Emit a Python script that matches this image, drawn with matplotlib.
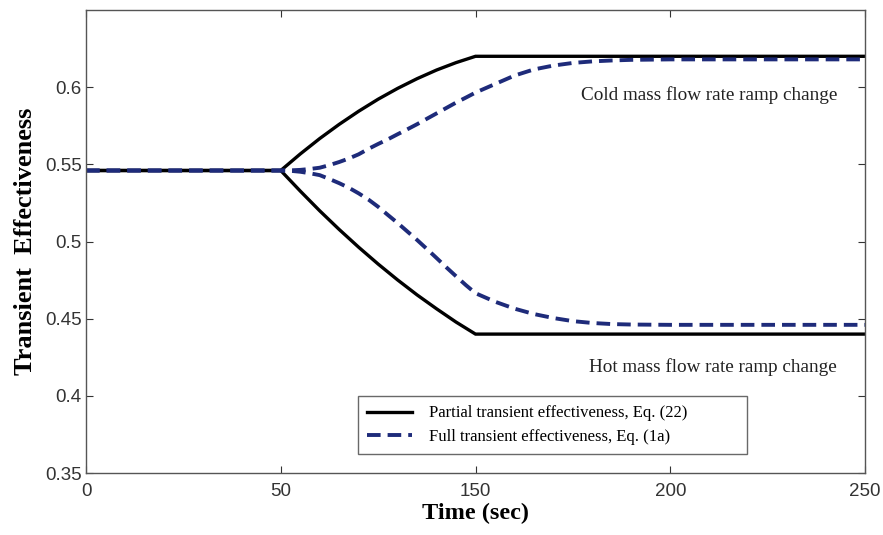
import numpy as np
import matplotlib
matplotlib.use('Agg')
import matplotlib.pyplot as plt

# tick labels along the time axis (equally spaced on the original figure)
time_ticks = [0, 50, 150, 200, 250]
tick_pos = [0, 1, 2, 3, 4]

# partial transient effectiveness, Eq. (22)
t_partial = [0, 50, 60, 70, 80, 90, 100, 110, 120, 130, 140, 150, 250]
cold_partial = [0.546, 0.546, 0.5567, 0.5667, 0.5759, 0.5844, 0.5922, 0.5992, 0.6055, 0.6111, 0.6159,
                0.620, 0.620]
hot_partial = [0.546, 0.546, 0.5327, 0.5199, 0.5078, 0.4963, 0.4854, 0.4751, 0.4654, 0.4564, 0.4478,
               0.440, 0.440]

# full transient effectiveness, Eq. (1a)
t_full = [0, 50, 55, 60, 65, 70, 75, 80, 85, 90, 95, 100, 105, 110, 115, 120, 125, 130, 135, 140, 145,
          150, 155, 160, 165, 170, 175, 180, 185, 190, 200, 250]
cold_full = [0.546, 0.546, 0.5461, 0.5464, 0.5470, 0.5478, 0.5495, 0.5515, 0.5538, 0.5565, 0.5600,
             0.5632, 0.5662, 0.5695, 0.5727, 0.5760, 0.5795, 0.5830, 0.5865, 0.5900, 0.5932,
             0.5965, 0.6020, 0.6075, 0.6115, 0.6140, 0.6157, 0.6167, 0.6173, 0.6177, 0.6180, 0.6180]
hot_full = [0.546, 0.546, 0.5458, 0.5452, 0.5442, 0.5430, 0.5405, 0.5378, 0.5348, 0.5312, 0.5272,
            0.5225, 0.5172, 0.5120, 0.5065, 0.5010, 0.4952, 0.4893, 0.4833, 0.4775, 0.4718,
            0.4665, 0.4610, 0.4565, 0.4530, 0.4504, 0.4484, 0.4472, 0.4465, 0.4462, 0.4460, 0.4460]

navy = '#1e2b7a'


def forward(t):
    return np.interp(t, time_ticks, tick_pos)


def inverse(p):
    return np.interp(p, tick_pos, time_ticks)


fig = plt.figure(figsize=(8.83, 5.35), dpi=100)
ax = fig.add_axes([86 / 883, 1 - 473 / 535, (865 - 86) / 883, (473 - 10) / 535])
ax.set_xscale('function', functions=(forward, inverse))

ax.plot(t_partial, cold_partial, color='black', lw=2.4, solid_joinstyle='miter',
        label='Partial transient effectiveness, Eq. (22)')
ax.plot(t_partial, hot_partial, color='black', lw=2.4, solid_joinstyle='miter')
ax.plot(t_full, cold_full, color=navy, lw=2.8, dashes=(3.5, 1.8),
        label='Full transient effectiveness, Eq. (1a)')
ax.plot(t_full, hot_full, color=navy, lw=2.8, dashes=(3.5, 1.8))

ax.set_xlim(0, 250)
ax.set_ylim(0.35, 0.65)
ax.set_xticks(time_ticks)
ax.set_xticklabels([str(v) for v in time_ticks])
ax.set_yticks([0.35, 0.4, 0.45, 0.5, 0.55, 0.6])
ax.set_yticklabels(['0.35', '0.4', '0.45', '0.5', '0.55', '0.6'])
ax.tick_params(direction='in', top=True, right=True, length=5, width=0.8,
               labelsize=13.5, colors='#333333', labelcolor='#333333')
ax.tick_params(axis='x', pad=7)
ax.tick_params(axis='y', pad=3)
for lab in ax.get_xticklabels() + ax.get_yticklabels():
    lab.set_family('Liberation Sans')
for sp in ax.spines.values():
    sp.set_color('#555555')
    sp.set_linewidth(1.0)

ax.set_xlabel('Time (sec)', family='Liberation Serif', fontweight='bold', fontsize=17.5, labelpad=2)
ax.set_ylabel('Transient  Effectiveness', family='Liberation Serif', fontweight='bold', fontsize=19, labelpad=6)

ax.text(210, 0.5948, 'Cold mass flow rate ramp change', family='Liberation Serif', fontsize=13.8,
        ha='center', va='center', color='#222222')
ax.text(211, 0.4187, 'Hot mass flow rate ramp change', family='Liberation Serif', fontsize=13.8,
        ha='center', va='center', color='#222222')

leg = ax.legend(loc='lower left', bbox_to_anchor=((358 - 86) / 779, (473 - 454) / 463,
                                                 (747 - 358) / 779, (454 - 390) / 463),
                mode='expand', prop={'family': 'Liberation Serif', 'size': 12},
                frameon=True, fancybox=False, edgecolor='#444444', borderaxespad=0,
                handlelength=2.7, handletextpad=1.0, labelspacing=0.45, borderpad=0.55)
leg.get_frame().set_linewidth(1.0)

fig.savefig('out.png', dpi=100)
